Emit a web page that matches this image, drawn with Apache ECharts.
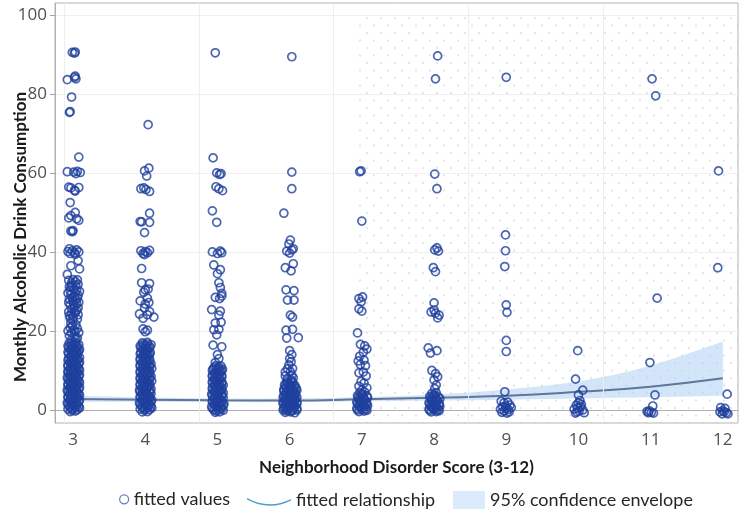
<!DOCTYPE html>
<html><head><meta charset="utf-8">
<script src="https://cdn.jsdelivr.net/npm/echarts@6/dist/echarts.min.js"></script>
<style>html,body{margin:0;padding:0;background:#fff}#c{width:750px;height:519px}</style>
</head><body><div id="c"></div>
<script>
// ---- data ----
const xTickValues = [3,4,5,6,7,8,9,10,11,12];
const yTickValues = [0,20,40,60,80,100];
const gridLineX = [2.88,4.745,6.61,8.475,10.34];
const fitX = [3,4,5,6,7,8,9,10,11,12];
const fitY = [2.8,2.6,2.45,2.4,2.7,3.1,3.6,4.6,5.9,8.0];
const bandLow = [2.1,2.1,2.0,2.0,2.2,2.4,2.6,2.9,3.2,3.6];
const bandHigh = [3.6,3.2,2.9,2.9,3.2,3.9,5.2,7.2,11.2,17.3];

const pts3 = [
[2.99,90.5],[3.02,90.3],[3.03,90.6],[2.92,83.6],[3.02,84.2],[3.04,83.8],[3.03,84.5],[2.98,79.2],[2.96,75.5],[2.95,75.3],
[3.08,64.0],[2.92,60.3],[3.01,60.2],[3.06,60.4],[3.04,59.8],[3.10,60.1],[2.94,56.4],[2.97,56.2],[3.02,55.6],[3.08,56.3],[3.03,55.4],
[2.96,52.5],[3.03,50.0],[2.94,48.6],[2.97,49.2],[3.08,48.0],[3.05,48.4],[2.97,45.3],[2.99,45.1],[3.00,45.4],
[2.93,40.1],[2.96,39.6],[2.99,40.3],[3.02,39.8],[3.05,40.5],[3.08,40.0],[2.95,40.8],[3.03,39.4],
[3.07,37.8],[2.97,36.5],[3.09,35.7],[2.92,34.3],
[2.94,32.8],[2.98,32.2],[3.03,32.5],[3.07,31.8],[2.95,31.2],[3.01,30.6],[3.05,30.3],[3.09,30.0],[2.93,29.6],[2.97,29.2],[3.02,28.8],[3.06,28.4],[2.95,28.0],[3.00,27.6],[3.04,27.9],[3.08,27.2],[2.96,26.6],[3.02,26.2],
[2.94,24.8],[2.98,24.3],[3.03,24.6],[3.07,24.1],[3.00,23.6],[2.95,23.9],[3.05,25.2],
[2.96,20.8],[3.01,20.3],[3.06,20.6],[2.93,20.0],[2.98,19.5],[3.03,19.8],[3.08,19.6],[2.95,18.8],[3.02,18.6],
[2.95,17.0],[3.04,17.1],[2.93,16.2],[2.99,16.3],[3.06,16.1],[2.96,15.4],[3.03,15.5],[3.09,15.3],[2.93,14.6],[3.00,14.7],[3.06,14.5],
[2.97,13.8],[3.04,13.9],[2.94,13.0],[3.00,13.1],[3.07,12.9],[2.96,12.2],[3.03,12.3],[3.09,12.1],[2.93,11.4],[2.99,11.5],[3.05,11.3],
[2.96,10.6],[3.02,10.7],[3.08,10.5],[2.93,9.8],[3.00,9.9],[3.06,9.7],[2.95,9.0],[3.03,9.1],[3.09,8.9],[2.92,8.2],[2.98,8.3],[3.05,8.1],
[2.95,7.4],[3.02,7.5],[3.08,7.3],[2.93,6.6],[2.99,6.7],[3.06,6.5],[2.96,5.8],[3.03,5.9],[3.09,5.7],[2.92,5.0],[2.98,5.1],[3.05,4.9],
[2.95,4.2],[3.01,4.3],[3.08,4.1],[2.93,3.4],[2.99,3.5],[3.06,3.3],[2.96,2.6],[3.03,2.7],[3.09,2.5],[2.92,1.8],[2.98,1.9],[3.05,1.7],
[2.95,1.0],[3.01,1.1],[3.08,0.9],[2.93,0.2],[2.99,0.3],[3.06,0.1],[2.96,-0.4],[3.03,-0.3]
];
const pts3dense = [
[2.97,16.6],[3.02,16.7],[3.08,16.5],[2.94,15.8],[3.00,15.9],[3.06,15.7],[2.97,15.0],[3.03,15.1],[3.08,14.9],[2.94,14.2],[3.01,14.3],[3.06,14.1],
[2.97,13.4],[3.03,13.5],[3.09,13.3],[2.93,12.6],[3.00,12.7],[3.06,12.5],[2.96,11.8],[3.02,11.9],[3.08,11.7],[2.93,11.0],[3.00,11.1],[3.06,10.9],
[2.96,10.2],[3.03,10.3],[3.09,10.1],[2.93,9.4],[2.99,9.5],[3.06,9.3],[2.96,8.6],[3.02,8.7],[3.08,8.5],[2.93,7.8],[3.00,7.9],[3.06,7.7],
[2.96,7.0],[3.03,7.1],[3.09,6.9],[2.93,6.2],[2.99,6.3],[3.06,6.1],[2.96,5.4],[3.02,5.5],[3.08,5.3],[2.93,4.6],[3.00,4.7],[3.06,4.5],
[2.96,3.8],[3.03,3.9],[3.09,3.7],[2.93,3.0],[2.99,3.1],[3.06,2.9],[2.96,2.2],[3.02,2.3],[3.08,2.1],[2.93,1.4],[3.00,1.5],[3.06,1.3],
[2.96,0.6],[3.03,0.7],[3.09,0.5],[2.99,-0.1],
[2.98,31.6],[3.04,31.4],[2.96,30.2],[3.03,29.8],[2.99,28.4],[3.05,27.0],[2.98,25.6],[3.02,25.0],[2.97,22.0],[3.04,21.6],[3.00,22.8],[3.06,18.2],[2.98,17.8],
[3.00,33.0],[3.06,32.9],[2.97,31.0],[3.07,29.0],[2.94,27.2],[3.01,26.9],[3.07,25.8],[2.96,23.2],[3.06,23.0],[2.99,21.2],[3.04,18.0]
];
const pts4 = [
[4.04,72.2],[4.05,61.2],[3.99,60.5],[4.02,59.2],[3.94,56.0],[3.98,56.2],[4.01,55.8],[4.06,55.3],[3.95,47.6],[4.06,47.5],[3.93,47.7],[4.06,49.8],[3.99,44.9],
[3.94,40.3],[3.97,39.6],[4.00,40.1],[4.03,39.8],[4.06,40.4],[3.99,39.3],
[3.95,35.8],[3.95,32.2],[4.06,32.0],[4.04,30.6],[4.00,30.4],[3.98,29.8],[4.03,28.3],[3.93,27.6],[4.05,27.2],[4.00,26.8],
[3.99,25.8],[4.06,24.9],[3.92,24.3],[4.03,24.1],[4.12,23.5],[3.97,23.2],[3.97,20.5],[4.03,20.2],[4.00,19.8],
[3.96,17.0],[4.03,17.1],[3.93,16.2],[4.00,16.3],[4.06,16.1],[3.96,15.4],[4.03,15.5],[3.94,14.6],[4.00,14.7],[4.07,14.5],
[3.97,13.8],[4.04,13.9],[3.93,13.0],[4.00,13.1],[4.06,12.9],[3.96,12.2],[4.03,12.3],[3.93,11.4],[3.99,11.5],[4.06,11.3],
[3.96,10.6],[4.03,10.7],[4.09,10.5],[3.93,9.8],[4.00,9.9],[4.06,9.7],[3.96,9.0],[4.03,9.1],[3.93,8.2],[3.99,8.3],[4.06,8.1],
[3.96,7.4],[4.03,7.5],[4.09,7.3],[3.93,6.6],[4.00,6.7],[4.06,6.5],[3.96,5.8],[4.03,5.9],[3.92,5.0],[3.99,5.1],[4.06,4.9],
[3.95,4.2],[4.02,4.3],[4.08,4.1],[3.93,3.4],[3.99,3.5],[4.06,3.3],[3.96,2.6],[4.03,2.7],[4.09,2.5],[3.92,1.8],[3.99,1.9],[4.05,1.7],
[3.95,1.0],[4.02,1.1],[4.08,0.9],[3.93,0.2],[3.99,0.3],[4.06,0.1],[3.96,-0.5],[4.03,-0.4]
];
const pts4dense = [
[3.97,16.6],[4.03,16.7],[4.08,16.5],[3.94,15.8],[4.00,15.9],[4.06,15.7],[3.97,15.0],[4.03,15.1],[3.93,14.2],[4.01,14.3],[4.06,14.1],
[3.97,13.4],[4.03,13.5],[3.93,12.6],[4.00,12.7],[4.06,12.5],[3.96,11.8],[4.02,11.9],[4.08,11.7],[3.93,11.0],[4.00,11.1],[4.06,10.9],
[3.96,10.2],[4.03,10.3],[3.93,9.4],[3.99,9.5],[4.06,9.3],[3.96,8.6],[4.02,8.7],[4.08,8.5],[3.93,7.8],[4.00,7.9],[4.06,7.7],
[3.96,7.0],[4.03,7.1],[3.93,6.2],[3.99,6.3],[4.06,6.1],[3.96,5.4],[4.02,5.5],[4.08,5.3],[3.93,4.6],[4.00,4.7],[4.06,4.5],
[3.96,3.8],[4.03,3.9],[3.93,3.0],[3.99,3.1],[4.06,2.9],[3.96,2.2],[4.02,2.3],[4.08,2.1],[3.93,1.4],[4.00,1.5],[4.06,1.3],
[3.96,0.6],[4.03,0.7],[4.09,0.5],[3.99,-0.1]
];
const pts5 = [
[4.97,90.4],[4.94,63.8],[4.99,60.0],[5.03,59.6],[5.05,59.8],[4.98,56.5],[5.02,56.0],[5.07,55.5],[4.93,50.4],[4.99,47.5],
[4.93,40.0],[5.00,39.6],[5.04,40.2],[5.06,39.8],
[4.95,36.7],[5.04,35.5],[5.00,34.5],[5.02,32.2],[5.04,31.0],[5.06,29.5],[5.03,28.2],[4.97,28.5],[5.06,28.8],
[4.92,25.4],[5.04,25.0],[5.02,24.0],[4.97,22.0],[5.05,22.2],[4.95,20.3],[5.02,20.4],[4.99,19.0],[4.94,16.4],[5.06,16.0],[5.00,14.0],[5.02,13.0],[4.97,12.0],
[4.98,11.2],[5.05,11.1],[4.94,10.4],[5.01,10.5],[5.07,10.3],[4.97,9.6],[5.04,9.7],[4.93,8.8],[5.00,8.9],[5.06,8.7],[4.96,8.0],[5.03,8.1],
[4.93,7.2],[4.99,7.3],[5.06,7.1],[4.96,6.4],[5.03,6.5],[5.08,6.3],[4.93,5.6],[5.00,5.7],[5.06,5.5],[4.96,4.8],[5.03,4.9],
[4.92,4.0],[4.99,4.1],[5.06,3.9],[4.95,3.2],[5.02,3.3],[5.08,3.1],[4.93,2.4],[4.99,2.5],[5.06,2.3],[4.96,1.6],[5.03,1.7],[5.09,1.5],
[4.92,0.8],[4.99,0.9],[5.05,0.7],[4.95,0.0],[5.02,0.1],[5.08,-0.1],[4.97,-0.6],[5.03,-0.5]
];
const pts5dense = [
[4.96,10.8],[5.02,10.9],[4.93,10.0],[5.00,10.1],[5.06,9.9],[4.96,9.2],[5.03,9.3],[4.93,8.4],[4.99,8.5],[5.06,8.3],
[4.96,7.6],[5.02,7.7],[4.93,6.8],[5.00,6.9],[5.06,6.7],[4.96,6.0],[5.03,6.1],[4.93,5.2],[4.99,5.3],[5.06,5.1],
[4.96,4.4],[5.02,4.5],[5.08,4.3],[4.93,3.6],[5.00,3.7],[5.06,3.5],[4.96,2.8],[5.03,2.9],[4.93,2.0],[4.99,2.1],[5.06,1.9],
[4.96,1.2],[5.02,1.3],[5.08,1.1],[4.93,0.4],[5.00,0.5],[5.06,0.3],[4.99,-0.3]
];
const pts6 = [
[6.03,89.4],[6.03,60.2],[6.03,56.0],[5.92,49.8],[6.01,43.0],[5.99,42.0],[6.03,40.5],[6.00,39.7],[6.05,40.8],[5.96,40.2],
[5.94,36.0],[6.02,35.2],[6.05,37.0],[5.95,30.4],[6.06,30.2],[5.97,27.8],[6.06,27.8],[6.01,24.0],[6.04,23.5],[5.95,20.2],[6.04,20.4],
[5.96,18.2],[6.12,18.3],[6.00,15.0],[6.03,14.0],[6.00,13.0],[6.02,12.2],[5.97,10.4],[6.04,10.5],[5.94,9.6],[6.01,9.7],[5.94,8.6],[6.03,8.8],[5.97,8.0],[6.05,8.1],
[5.96,7.2],[6.03,7.3],[5.93,6.4],[6.00,6.5],[6.07,6.3],[5.95,5.6],[6.02,5.7],[6.09,5.5],[5.92,4.8],[5.98,4.9],[6.05,4.7],
[5.94,4.0],[6.01,4.1],[6.08,3.9],[5.91,3.2],[5.97,3.3],[6.04,3.1],[6.10,3.2],[5.93,2.4],[6.00,2.5],[6.07,2.3],
[5.91,1.6],[5.97,1.7],[6.04,1.5],[6.10,1.6],[5.93,0.8],[6.00,0.9],[6.07,0.7],[5.91,0.0],[5.97,0.1],[6.04,-0.1],[6.10,0.0],[5.94,-0.6],[6.01,-0.5],[6.07,-0.7]
];
const pts6dense = [
[5.97,6.8],[6.04,6.9],[5.94,6.0],[6.01,6.1],[6.07,5.9],[5.92,5.2],[5.98,5.3],[6.05,5.1],[6.10,5.0],[5.95,4.4],[6.02,4.5],[6.08,4.3],
[5.92,3.6],[5.99,3.7],[6.06,3.5],[5.94,2.8],[6.01,2.9],[6.08,2.7],[5.91,2.0],[5.97,2.1],[6.04,1.9],[6.10,2.0],[5.94,1.2],[6.01,1.3],[6.07,1.1],
[5.92,0.4],[5.98,0.5],[6.05,0.3],[6.10,0.4],[5.96,-0.2],[6.03,-0.3],[5.99,11.4],[6.02,7.6]
];
const pts7 = [
[6.97,60.3],[6.99,60.5],[7.00,47.8],[6.96,28.2],[7.01,28.6],[6.99,27.4],[6.96,25.6],[7.00,25.0],[6.94,19.5],
[6.98,16.6],[7.04,16.2],[7.07,15.4],[7.02,14.6],[6.97,13.6],[6.95,12.4],[7.03,12.6],[6.98,11.5],[7.05,11.2],[6.96,9.4],[7.02,9.6],[7.06,8.6],[6.99,7.2],[7.03,6.8],[6.96,6.0],[7.07,5.6],
[6.97,4.4],[7.04,4.5],[6.94,3.6],[7.00,3.7],[7.07,3.5],[6.96,2.8],[7.03,2.9],[6.93,2.0],[7.00,2.1],[7.06,1.9],[6.96,1.2],[7.03,1.3],[7.08,1.1],[6.93,0.4],[6.99,0.5],[7.06,0.3],[6.96,-0.4],[7.03,-0.3]
];
const pts7dense = [
[7.00,4.0],[6.95,3.2],[7.02,3.3],[7.08,3.1],[6.97,2.4],[7.04,2.5],[6.94,1.6],[7.01,1.7],[7.07,1.5],[6.97,0.8],[7.04,0.9],[6.94,0.0],[7.01,0.1],[7.07,-0.1],[7.00,5.0]
];
const pts8 = [
[8.05,89.6],[8.02,83.8],[8.01,59.7],[8.04,56.0],[8.01,40.5],[8.04,41.0],[8.06,40.2],[7.99,36.0],[8.02,35.0],[8.00,27.1],
[7.96,24.8],[8.02,24.5],[8.05,23.3],[8.00,25.3],[8.07,24.0],[7.92,15.7],[7.95,14.4],[8.04,15.0],
[7.97,10.0],[8.02,9.2],[8.05,8.4],[8.00,7.6],[8.03,6.3],[8.01,5.4],
[7.97,4.2],[8.03,4.3],[7.94,3.4],[8.00,3.5],[8.06,3.3],[7.96,2.6],[8.03,2.7],[7.93,1.8],[8.00,1.9],[8.07,1.7],[7.96,1.0],[8.03,1.1],[8.08,0.9],[7.93,0.2],[7.99,0.3],[8.06,0.1],[7.96,-0.5],[8.03,-0.4]
];
const pts8dense = [
[8.00,3.9],[7.95,3.0],[8.02,3.1],[8.08,2.9],[7.97,2.2],[8.04,2.3],[7.94,1.4],[8.01,1.5],[8.07,1.3],[7.97,0.6],[8.04,0.7],[7.94,-0.1],[8.01,0.0],[8.07,-0.2]
];
const pts9 = [
[9.00,84.2],[8.99,44.3],[8.99,40.3],[8.98,36.3],[9.00,26.6],[9.01,24.7],[9.00,17.6],[9.00,14.8],[8.98,4.6],
[8.93,2.2],[8.97,1.8],[9.02,2.0],[9.05,1.2],[8.95,0.8],[9.00,0.4],[9.03,0.1],[8.92,0.2],[8.97,-0.3],[9.04,-0.5],[9.07,0.6],[8.99,1.0],[8.94,-0.6],[9.01,-0.8]
];
const pts10 = [
[9.99,15.0],[9.96,7.8],[10.00,3.8],[10.06,5.0],
[9.94,0.2],[9.97,1.2],[10.00,1.8],[10.03,0.8],[10.06,0.0],[9.98,-0.5],[10.01,-0.2],[10.04,1.4],[9.96,-0.8],[10.08,-0.7],[10.02,2.4],[9.99,0.5]
];
const pts11 = [
[11.02,83.8],[11.07,79.5],[11.09,28.3],[10.99,12.0],[11.06,3.8],[11.03,1.0],[10.95,-0.4],[10.98,-0.2],[11.01,-0.6],[11.04,-0.8],[10.97,-0.7]
];
const pts12 = [
[11.94,60.5],[11.93,36.0],[12.06,4.0],[11.97,0.6],[12.00,-0.2],[12.03,0.4],[12.05,-0.7],[11.99,-1.0],[12.02,-0.5],[12.07,-1.0],[11.96,-0.5]
];

// ---- build ----
const allPts = [].concat(pts3,pts3dense,pts4,pts4dense,pts5,pts5dense,pts6,pts6dense,pts7,pts7dense,pts8,pts8dense,pts9,pts10,pts11,pts12);
const fitData = fitX.map((x,i)=>[x, fitY[i]]);
const bandData = fitX.map((x,i)=>[x, bandLow[i], bandHigh[i]]);

function dotPattern(){
  const c = document.createElement('canvas'); c.width = 14; c.height = 15;
  const g = c.getContext('2d'); g.fillStyle = 'rgba(150,160,185,0.38)';
  g.beginPath(); g.arc(3,3,0.9,0,Math.PI*2); g.fill();
  g.beginPath(); g.arc(10,10.5,0.9,0,Math.PI*2); g.fill();
  return c;
}
// Catmull-Rom -> cubic bezier path segments through pixel points
function crPath(p, start){
  let d = start ? ('M' + p[0][0] + ',' + p[0][1]) : ('L' + p[0][0] + ',' + p[0][1]);
  for (let i = 0; i < p.length - 1; i++) {
    const p0 = p[Math.max(i-1,0)], p1 = p[i], p2 = p[i+1], p3 = p[Math.min(i+2,p.length-1)];
    const c1 = [p1[0] + (p2[0]-p0[0])/6, p1[1] + (p2[1]-p0[1])/6];
    const c2 = [p2[0] - (p3[0]-p1[0])/6, p2[1] - (p3[1]-p1[1])/6];
    d += 'C' + c1[0] + ',' + c1[1] + ',' + c2[0] + ',' + c2[1] + ',' + p2[0] + ',' + p2[1];
  }
  return d;
}

const FONT = 'Lato';
const chart = echarts.init(document.getElementById('c'), null, {renderer:'canvas'});
const legendText = {fontFamily: FONT, fontSize: 18, color: '#262626'};
chart.setOption({
  animation: false,
  grid: {left: 55, right: 12, top: 3, bottom: 96, outerBoundsMode: 'none', containLabel: false,
         show: true, borderColor: '#b5b5b5', borderWidth: 1, backgroundColor: 'transparent'},
  xAxis: {
    type: 'value', min: 2.75, max: 12.21,
    name: 'Neighborhood Disorder Score (3-12)', nameLocation: 'middle', nameGap: 36, nameMoveOverlap: false,
    nameTextStyle: {fontFamily: FONT, fontWeight: 'bold', fontSize: 17, color: '#1a1a1a'},
    axisLine: {show: true, lineStyle: {color: '#b0b0b0'}},
    axisTick: {show: true, length: 5, lineStyle: {color: '#a0a0a0'}, customValues: xTickValues},
    axisLabel: {customValues: xTickValues, margin: 9, fontFamily: 'Open Sans', fontSize: 17, color: '#505050'},
    splitLine: {show: false}
  },
  yAxis: {
    type: 'value', min: -3.3, max: 103, splitNumber: 5,
    name: 'Monthly Alcoholic Drink Consumption', nameLocation: 'middle', nameGap: 26, nameMoveOverlap: false,
    nameTextStyle: {fontFamily: FONT, fontWeight: 'bold', fontSize: 17, color: '#1a1a1a', padding: [0, 48, 0, 0]},
    axisLine: {show: true, lineStyle: {color: '#b0b0b0'}},
    axisTick: {show: true, length: 5, lineStyle: {color: '#a0a0a0'}, customValues: yTickValues},
    axisLabel: {customValues: yTickValues, margin: 8, fontFamily: 'Open Sans', fontSize: 17, color: '#505050'},
    splitLine: {show: true, lineStyle: {color: '#f0f0f0'}}
  },
  legend: [
    {left: 79, bottom: 5, itemWidth: 44, itemHeight: 18, itemGap: 0, selectedMode: false, textStyle: legendText,
     data: [{name: 'fitted values', icon: 'path://M0,0 M44,18 M35,9 A4.5,4.5 0 1,1 44,9 A4.5,4.5 0 1,1 35,9 Z',
             itemStyle: {color: 'rgba(0,0,0,0)', borderColor: '#3f67a8', borderWidth: 1.3}}]},
    {left: 242, bottom: 5, itemWidth: 44, itemHeight: 18, itemGap: 0, selectedMode: false, textStyle: legendText,
     data: [{name: 'fitted relationship', icon: 'path://M0,0 M44,18 M0,7 Q22,19 44,8 L44,9.6 Q22,20.6 0,8.6 Z',
             itemStyle: {color: '#4a9bd6', borderWidth: 0}}]},
    {left: 436, bottom: 5, itemWidth: 44, itemHeight: 18, itemGap: 0, selectedMode: false, textStyle: legendText,
     data: [{name: '95% confidence envelope', icon: 'path://M0,0 M44,18 M12,0 L44,0 L44,18 L12,18 Z',
             itemStyle: {color: '#dcebfb', borderWidth: 0}}]}
  ],
  series: [
    {
      type: 'custom', name: '95% confidence envelope', data: bandData, silent: true, z: 2,
      encode: {x: 0, y: [1, 2]}, color: '#dcebfb',
      renderItem: function (params, api) {
        if (params.dataIndex !== 0) return null;
        const up = fitX.map((x,i) => api.coord([x, bandHigh[i]]));
        const lo = fitX.map((x,i) => api.coord([x, bandLow[i]])).reverse();
        return {type: 'path', shape: {pathData: crPath(up, true) + crPath(lo, false) + 'Z'},
                style: {fill: 'rgba(175,207,242,0.55)'}};
      },
      markArea: {silent: true, itemStyle: {color: {image: dotPattern(), repeat: 'repeat'}, opacity: 1},
        data: [[{xAxis: 6.93, yAxis: -3.3}, {xAxis: 12.21, yAxis: 100.5}]]},
      markLine: {silent: true, symbol: 'none', label: {show: false},
        lineStyle: {color: '#eeeeee', width: 1, type: 'solid'},
        data: gridLineX.map(v => ({xAxis: v}))}
    },
    {
      type: 'line', name: 'fitted relationship', data: fitData, smooth: true, symbol: 'none', silent: true,
      lineStyle: {color: '#5f7798', width: 2}, color: '#4a9bd6', z: 4
    },
    {
      type: 'scatter', name: 'fitted values', data: allPts, symbol: 'circle', symbolSize: 8, z: 5,
      itemStyle: {color: 'rgba(0,0,0,0)', borderColor: '#1f409e', borderWidth: 1.7}
    }
  ]
});
</script></body></html>
